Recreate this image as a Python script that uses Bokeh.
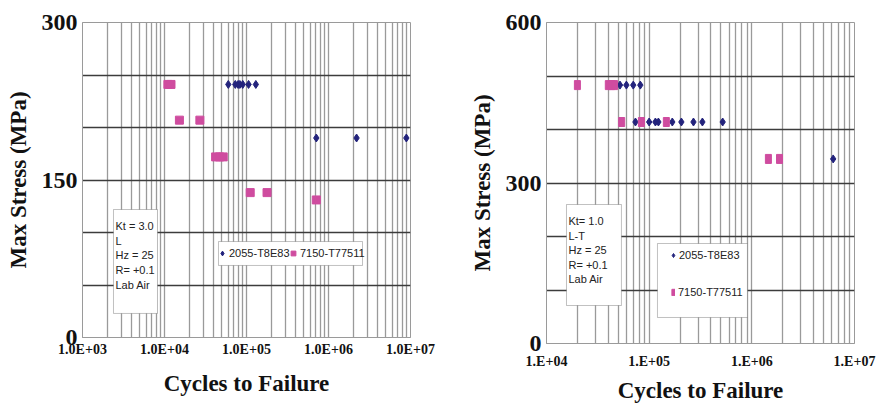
from bokeh.plotting import figure
from bokeh.layouts import row, column
from bokeh.models import FixedTicker, BoxAnnotation, Label, Legend, LegendItem, Range1d
from bokeh.embed import file_html
from bokeh.resources import INLINE

# ---------------- data: left panel (Kt = 3.0, L) ----------------
left_2055_cycles = [6.0e4, 7.3e4, 7.9e4, 8.3e4, 9.0e4, 1.06e5, 1.3e5, 7.1e5, 2.2e6, 8.9e6]
left_2055_stress = [241, 241, 241, 241, 241, 241, 241, 190, 190, 190]
left_7150_cycles = [1.1e4, 1.2e4, 1.52e4, 2.7e4, 4.2e4, 4.7e4, 5.2e4, 1.11e5, 1.78e5, 7.1e5]
left_7150_stress = [241, 241, 207, 207, 172, 172, 172, 138, 138, 131]
left_x_ticks = [1e3, 1e4, 1e5, 1e6, 1e7]
left_x_labels = ["1.0E+03", "1.0E+04", "1.0E+05", "1.0E+06", "1.0E+07"]
left_y_ticks = [0, 50, 100, 150, 200, 250, 300]
left_y_labels = ["0", "", "", "150", "", "", "300"]
left_note = ["Kt = 3.0", "L", "Hz = 25", "R= +0.1", "Lab Air"]

# ---------------- data: right panel (Kt = 1.0, L-T) ----------------
right_2055_cycles = [5.2e4, 6.0e4, 7.0e4, 8.2e4, 7.35e4, 1.0e5, 1.15e5, 1.23e5, 1.68e5,
                     2.06e5, 2.7e5, 3.3e5, 5.2e5, 6.2e6]
right_2055_stress = [483, 483, 483, 483, 414, 414, 414, 414, 414, 414, 414, 414, 414, 345]
right_7150_cycles = [2.0e4, 4.0e4, 4.3e4, 4.6e4, 5.4e4, 8.4e4, 1.47e5, 1.45e6, 1.86e6]
right_7150_stress = [483, 483, 483, 483, 414, 414, 414, 345, 345]
right_x_ticks = [1e4, 1e5, 1e6, 1e7]
right_x_labels = ["1.E+04", "1.E+05", "1.E+06", "1.E+07"]
right_y_ticks = [0, 100, 200, 300, 400, 500, 600]
right_y_labels = ["0", "", "", "300", "", "", "600"]
right_note = ["Kt= 1.0", "L-T", "Hz = 25", "R= +0.1", "Lab Air"]

series_names = ["2055-T8E83", "7150-T77511"]

# ---------------- style ----------------
SERIF = "Liberation Serif"
SANS = "Liberation Sans"
NAVY = "#23237c"
PINK = "#cf4c9f"
VGRID = "#9a9a9a"
HGRID = "#3c3c3c"


def make_panel(width, height, bl, br, bt, bb, xticks, xlabels, yticks, ylabels,
               xtick_standoff, xlabel_standoff, line_h=None):
    p = figure(width=width, height=height, x_axis_type="log",
               x_range=Range1d(xticks[0], xticks[-1]), y_range=Range1d(yticks[0], yticks[-1]),
               output_backend="svg", toolbar_location=None,
               min_border_left=bl, min_border_right=br, min_border_top=bt, min_border_bottom=bb)
    p.background_fill_color = "white"
    p.border_fill_color = "white"
    p.outline_line_color = VGRID
    p.outline_line_width = 1

    minor = [m * d for d in xticks[:-1] for m in range(2, 10)]
    p.xaxis.ticker = FixedTicker(ticks=xticks, minor_ticks=minor)
    p.xaxis.major_label_overrides = {int(t): s for t, s in zip(xticks, xlabels)}
    p.yaxis.ticker = FixedTicker(ticks=yticks)
    p.yaxis.major_label_overrides = {int(t): s for t, s in zip(yticks, ylabels)}

    p.xgrid.grid_line_color = VGRID
    p.xgrid.grid_line_width = 1.3
    p.xgrid.minor_grid_line_color = VGRID
    p.xgrid.minor_grid_line_width = 1.3
    p.ygrid.ticker = FixedTicker(ticks=yticks[1:-1])
    p.ygrid.grid_line_color = HGRID
    p.ygrid.grid_line_width = 1.6

    for ax in (p.xaxis, p.yaxis):
        ax.axis_line_color = VGRID
        ax.major_tick_out = 0
        ax.major_tick_in = 0
        ax.minor_tick_out = 0
        ax.minor_tick_in = 0
        ax.major_label_text_font = SERIF
        ax.major_label_text_font_style = "bold"
        ax.major_label_text_color = "#111111"
        ax.axis_label_text_font = SERIF
        ax.axis_label_text_font_style = "bold"
        ax.axis_label_text_font_size = "23px"
        ax.axis_label_text_color = "#111111"
    p.xaxis.major_label_text_font_size = "14px"
    p.yaxis.major_label_text_font_size = "24px"
    p.xaxis.major_label_standoff = xtick_standoff
    p.xaxis.axis_label_standoff = xlabel_standoff
    if line_h is not None:
        p.xaxis.axis_label_text_line_height = line_h
        p.xaxis.major_label_text_line_height = line_h
    p.yaxis.major_label_standoff = 5
    p.yaxis.axis_label_standoff = 8
    p.xaxis.axis_label = "Cycles to Failure"
    p.yaxis.axis_label = "Max Stress (MPa)"
    return p


def make_legend(label, rend, loc, gw, gh, standoff):
    return Legend(items=[LegendItem(label=label, renderers=[rend])], location=loc,
                  glyph_width=gw, glyph_height=gh, label_height=12, label_standoff=standoff,
                  padding=0, spacing=0, margin=0, border_line_color=None,
                  background_fill_alpha=0, label_text_font=SANS, label_text_font_size="11px",
                  label_text_color="#222222")


# ---------------- left panel ----------------
p1 = make_panel(440, 408, 82, 30, 22, 71, left_x_ticks, left_x_labels,
                left_y_ticks, left_y_labels, 4, 11)
r1a = p1.scatter(left_2055_cycles, left_2055_stress, marker="diamond", size=8,
                 fill_color=NAVY, line_color=NAVY)
r1b = p1.scatter(left_7150_cycles, left_7150_stress, marker="square", size=8,
                 fill_color=PINK, line_color=PINK)

p1.add_layout(BoxAnnotation(left=2388, right=8215, bottom=22.9, top=121.9,
                            fill_color="white", fill_alpha=1, line_color="#333333", line_width=1))
p1.add_layout(Label(x=2524, y=111.5, text="\n".join(left_note), text_font=SANS,
                    text_font_size="11px", text_line_height=1.21, text_align="left",
                    text_baseline="top", text_color="#222222"))
p1.add_layout(BoxAnnotation(left=45540, right=2.598e6, bottom=68.6, top=91.4,
                            fill_color="white", fill_alpha=1, line_color="#333333", line_width=1))
p1.add_layout(make_legend(series_names[0], r1a, (134, 78), 12, 12, 1), "center")
p1.add_layout(make_legend(series_names[1], r1b, (205, 78), 12, 12, 1), "center")

# ---------------- right panel ----------------
p2 = make_panel(438, 408, 106, 24, 22, 65, right_x_ticks, right_x_labels,
                right_y_ticks, right_y_labels, 10, 6, line_h=1.0)
r2a = p2.scatter(right_2055_cycles, right_2055_stress, marker="diamond", size=8,
                 fill_color=NAVY, line_color=NAVY)
r2b = p2.rect(right_7150_cycles, right_7150_stress, width=6, height=9,
              width_units="screen", height_units="screen",
              fill_color=PINK, line_color=PINK)

p2.add_layout(BoxAnnotation(left=15655, right=53700, bottom=71.0, top=259.8,
                            fill_color="white", fill_alpha=1, line_color="#333333", line_width=1))
p2.add_layout(Label(x=16370, y=240, text="\n".join(right_note), text_font=SANS,
                    text_font_size="11px", text_line_height=1.21, text_align="left",
                    text_baseline="top", text_color="#222222"))
p2.add_layout(BoxAnnotation(left=1.205e5, right=9.06e5, bottom=48.6, top=186.9,
                            fill_color="white", fill_alpha=1, line_color="#333333", line_width=1))
p2.add_layout(make_legend(series_names[0], r2a, (122, 82), 10, 12, 1), "center")
p2.add_layout(make_legend(series_names[1], r2b, (125, 45), 4, 8, 3), "center")

layout = row(column(p1), column(p2))
open("out.html", "w").write(file_html(layout, INLINE))
